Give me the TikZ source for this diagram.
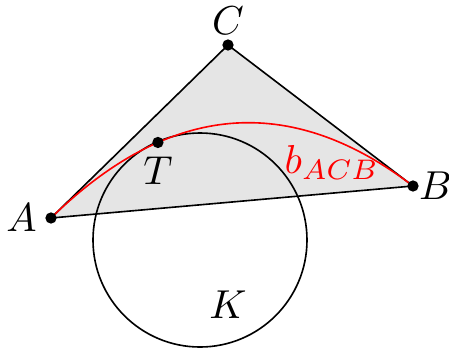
\documentclass[tikz,border=0pt]{standalone}
\usepackage{amsmath,amssymb}
\usepackage{tikz}
\usetikzlibrary{calc,positioning}

\begin{document}
\begin{tikzpicture}[scale=0.87,
    dot/.style={circle,fill=black,inner sep=0pt,minimum size=2.8pt},
    lbl/.style={font=\normalsize}]
    \useasboundingbox (0,0) rectangle (4.49,3.52);
    % Triangle
    \coordinate (A) at (0.51,1.34);
    \coordinate (B) at (4.13,1.66);
    \coordinate (C) at (2.28,3.07);
    \fill[gray!20] (A) -- (B) -- (C) -- cycle;
    \draw (A) -- (B) -- (C) -- cycle;
    % Circle K
    \coordinate (O) at (2.00,1.12);
    \draw (O) circle (1.07);
    \node[lbl] (lK) at (2.28,0.47) {$K$};
    % Bezier curve (quadratic, control C)
    \draw[red] (A) .. controls ($(A)!2/3!(C)$) and ($(B)!2/3!(C)$) .. (B)
      coordinate[pos=0.3] (T);
    \node[red,lbl] (lb) at (3.32,1.9) {$b_{ACB}$};
    % Points
    \foreach \p/\pos/\d in {A/left/0pt,B/right/-2pt,C/above/-1pt,T/below/0pt} {
      \node[dot] (d\p) at (\p) {};
      \node[lbl,\pos=\d of \p] (l\p) {$\p$};
    }
\end{tikzpicture}
\end{document}
